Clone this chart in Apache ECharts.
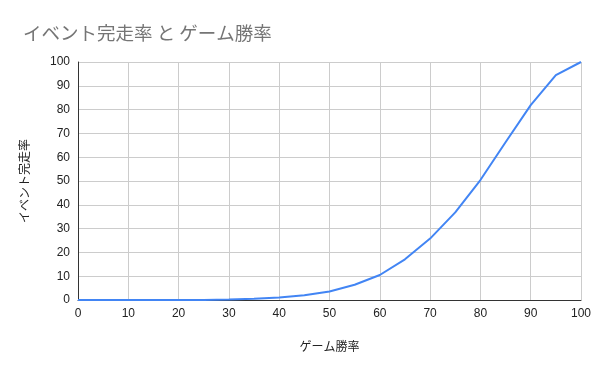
<!DOCTYPE html>
<html>
<head>
<meta charset="utf-8">
<script src="https://cdn.jsdelivr.net/npm/echarts@6/dist/echarts.min.js"></script>
<style>html,body{margin:0;padding:0;background:#fff}#c{width:600px;height:371px}</style>
</head>
<body>
<div id="c"></div>
<script>
const winRates = [0,5,10,15,20,25,30,35,40,45,50,55,60,65,70,75,80,85,90,95,100];
const completionRates = [0,0,0,0,0,0.05,0.2,0.5,1.0,2.0,3.6,6.4,10.5,17.1,25.8,36.8,50.4,66.3,81.9,94.5,100];
const titleText = 'イベント完走率 と ゲーム勝率';
const xName = 'ゲーム勝率';
const yName = 'イベント完走率';

const font = '"Noto Sans CJK JP", Arial, sans-serif';
const chart = echarts.init(document.getElementById('c'));
chart.setOption({
  animation: false,
  title: {
    text: titleText, left: 18, top: 19,
    textStyle: { color: '#757575', fontSize: 18.5, fontWeight: 'normal', fontFamily: font }
  },
  grid: { left: 78, right: 19, top: 62, bottom: 71 },
  xAxis: {
    type: 'value', min: 0, max: 100, interval: 10,
    name: xName, nameLocation: 'middle', nameGap: 40,
    nameTextStyle: { color: '#222', fontSize: 12, fontFamily: font },
    axisLine: { show: true, lineStyle: { color: '#333', width: 1 } },
    axisTick: { show: false },
    axisLabel: { color: '#222', fontSize: 12, fontFamily: 'Arial, "Liberation Sans", sans-serif', margin: 8 },
    splitLine: { show: true, lineStyle: { color: '#cccccc' } }
  },
  yAxis: {
    type: 'value', min: 0, max: 100, interval: 10,
    name: yName, nameLocation: 'middle', nameGap: 48,
    nameTextStyle: { color: '#222', fontSize: 12, fontFamily: font },
    axisLine: { show: true, lineStyle: { color: '#333', width: 1 } },
    axisTick: { show: false },
    axisLabel: { color: '#222', fontSize: 12, fontFamily: 'Arial, "Liberation Sans", sans-serif', margin: 8 },
    splitLine: { show: true, lineStyle: { color: '#cccccc' } }
  },
  series: [{
    type: 'line',
    data: winRates.map((x, i) => [x, completionRates[i]]),
    showSymbol: false,
    lineStyle: { color: '#4285F4', width: 2 },
    itemStyle: { color: '#4285F4' }
  }]
});
</script>
</body>
</html>
